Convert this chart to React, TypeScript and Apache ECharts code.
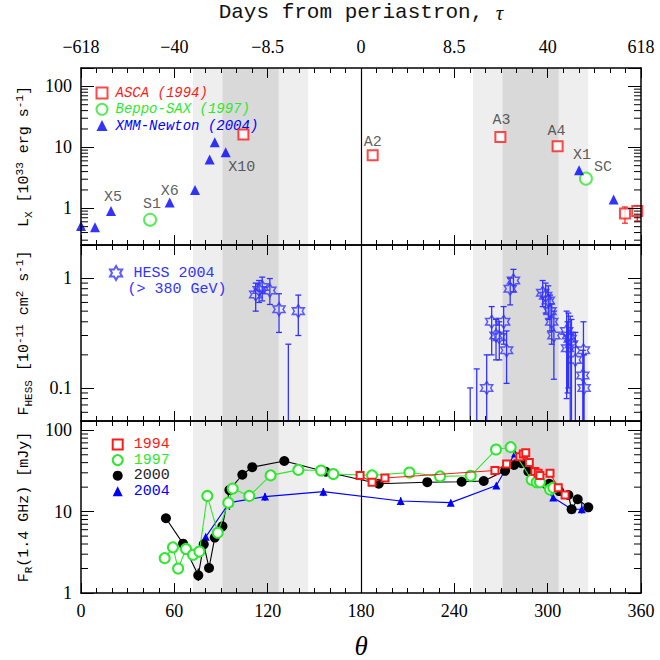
import React, { useEffect, useRef } from 'react';
import * as echarts from 'echarts';

// ---------- Panel 1: X-ray luminosity ----------
const ascaTheta = [104.4, 187.5, 269.6, 306.4, 349.7, 357.6];
const ascaLx = [16.3, 7.4, 14.7, 10.4, 0.82, 0.9];
const ascaLabels = ['', 'A2', 'A3', 'A4', '', ''];
const ascaErrTheta = [349.7, 357.6];
const ascaErrLo = [0.57, 0.62];
const ascaErrHi = [1.05, 1.1];

const saxTheta = [44.4, 324.6];
const saxLx = [0.65, 3.07];
const saxLabels = ['S1', 'SC'];
const saxErrLo = [0.5, 3.07];
const saxErrHi = [0.65, 3.07];

const xmmTheta = [0, 9, 19.3, 57, 73.3, 82.7, 86, 93, 320.2, 342.4];
const xmmLx = [0.51, 0.49, 0.9, 1.24, 2.0, 6.3, 12.1, 8.3, 4.2, 1.4];
const xmmLabels = ['', '', 'X5', 'X6', '', '', '', 'X10', 'X1', ''];

// ---------- Panel 2: HESS flux ----------
const hessTheta = [112.3, 114.5, 116.5, 121.4, 127.3, 139.7, 260.8, 264.0, 266.8, 268.9, 271.7, 273.6, 275.9, 278.0,
  296.8, 298.7, 300.4, 301.5, 302.6, 304.0, 312.2, 312.8, 313.3, 314.5, 315.3, 317.8, 322.6, 323.0, 323.4];
const hessF = [0.71, 0.78, 0.83, 0.77, 0.52, 0.50, 0.10, 0.40, 0.30, 0.29, 0.40, 0.22, 0.80, 0.95,
  0.735, 0.69, 0.625, 0.50, 0.40, 0.30, 0.33, 0.23, 0.30, 0.28, 0.25, 0.18, 0.13, 0.22, 0.10];
const hessLo = [0.50, 0.60, 0.62, 0.575, 0.32, 0.30, 0.01, 0.20, 0.18, 0.18, 0.25, 0.11, 0.57, 0.75,
  0.55, 0.48, 0.42, 0.33, 0.25, 0.12, 0.08, 0.09, 0.10, 0.01, 0.01, 0.02, 0.01, 0.01, 0.01];
const hessHi = [0.90, 0.95, 1.02, 0.99, 0.72, 0.70, 0.20, 0.55, 0.42, 0.40, 0.55, 0.33, 1.0, 1.2,
  0.95, 0.90, 0.85, 0.70, 0.58, 0.50, 0.50, 0.40, 0.48, 0.45, 0.42, 0.32, 0.22, 0.40, 0.20];
const hessUlTheta = [133.3, 250.2, 254.4];
const hessUlHi = [0.25, 0.10, 0.149];

// ---------- Panel 3: radio flux ----------
const r1994Theta = [179.4, 187.1, 195.4, 266.1, 273.6, 282.2, 284.3, 285.9, 288.2, 291.8, 293.9, 295, 301.5, 306.8, 311.2];
const r1994F = [27.9, 23, 25.9, 32, 38.6, 47.2, 51, 52.8, 40.3, 31.2, 29.6, 27.9, 29.6, 19.7, 16];

const r1997Theta = [53.8, 59.1, 62.4, 67.5, 72, 76.1, 81.2, 87.9, 94.7, 97.5, 108.2, 121.9, 139.7, 154.3, 162.2,
  187.1, 211.1, 230.8, 250.5, 266.8, 276.2, 289.7, 292.9, 295, 301.5, 303.6];
const r1997F = [2.68, 3.64, 2.0, 3.48, 2.95, 3.23, 15.6, 5.5, 12.9, 19.2, 15.6, 27.9, 32.6, 32.0, 29,
  27.9, 30.3, 27.1, 27.6, 58, 62, 24.6, 23, 23, 18.7, 19.7];

const r2000Theta = [54.6, 65.6, 75.4, 78.9, 82.3, 86, 90.9, 95.4, 103.7, 110.1, 130.7, 157.3, 191.4, 222.6, 244.7,
  258.9, 272.6, 278.4, 283.3, 287.6, 290.8, 294.6, 301, 307.4, 313.3, 315.4, 319.3, 326.1];
const r2000F = [8.3, 4.04, 1.65, 3.96, 2.03, 4.8, 6.6, 18.4, 28.4, 35.2, 41.9, 30.9, 22, 23, 23.3,
  23.8, 31.7, 37.5, 39.3, 31.2, 27.6, 24.6, 22, 17.9, 16, 10.7, 14.2, 11.3];

const r2004Theta = [80.2, 95.4, 118.3, 155.8, 205.5, 237.7, 267, 279, 289.7, 303.6, 315.4, 321.9];
const r2004F = [4.9, 12.9, 15.3, 17.6, 13.5, 12.9, 21, 52, 27.9, 14.9, 10.7, 10.7];

const rErr2004Theta = [95.4, 118.3, 155.8, 205.5, 237.7, 321.9];
const rErr2004Lo = [10.5, 13.5, 15.5, 12, 12, 9.5];
const rErr2004Hi = [15, 17, 19.5, 15, 14, 13];
const rErr2000Theta = [65.6, 75.4, 315.4, 319.3];
const rErr2000Lo = [3.7, 1.4, 9.5, 12.5];
const rErr2000Hi = [4.4, 2.0, 12, 16];
const rErr1997Theta = [53.8, 62.4, 139.7, 154.3, 211.1, 230.8, 250.5, 266.8, 276.2];
const rErr1997Lo = [2.3, 1.75, 30.5, 30, 28.5, 25.5, 26, 54, 58];
const rErr1997Hi = [3.1, 2.3, 34.5, 34, 32, 28.7, 29.2, 62, 66];

// ---------- axes ----------
const tauLabels = ['\u2212618', '\u221240', '\u22128.5', '0', '8.5', '40', '618'];
const yMin = [0.25, 0.05, 1];
const yMax = [200, 2, 130];
const minorTicks0 = [0.3, 0.4, 0.5, 0.6, 0.7, 0.8, 0.9, 2, 3, 4, 5, 6, 7, 8, 9, 20, 30, 40, 50, 60, 70, 80, 90];
const minorTicks1 = [0.06, 0.07, 0.08, 0.09, 0.2, 0.3, 0.4, 0.5, 0.6, 0.7, 0.8, 0.9];
const minorTicks2 = [2, 3, 4, 5, 6, 7, 8, 9, 20, 30, 40, 50, 60, 70, 80, 90];
const lightBands = [[72, 146], [252, 326]];
const darkBands = [[91, 127], [271, 307]];

const RED = '#ff1a1a';
const GREEN = '#2ee82e';
const BLUE = '#0000ff';
const HBLUE = '#3333ff';
const MONO = '"Liberation Mono", "DejaVu Sans Mono", monospace';
const SERIF = '"Liberation Serif", "DejaVu Serif", serif';
const STAR = 'path://M10 0L12.89 5L18.66 5L15.77 10L18.66 15L12.89 15L10 20L7.11 15L1.34 15L4.23 10L1.34 5L7.11 5Z';

const logLabel = (v: number) => {
  const l = Math.log10(v);
  const r = Math.round(l);
  if (Math.abs(l - r) > 1e-6) return '';
  return r >= 0 ? String(Math.pow(10, r)) : Math.pow(10, r).toFixed(-r);
};

const yNames = [
  '{n|L}{sub|X}{n| [10}{sup|33}{n| erg s}{sup|-1}{n|]}',
  '{n|F}{sub|HESS}{n| [10}{sup|-11}{n| cm}{sup|2}{n| s}{sup|-1}{n|]}',
  '{n|F}{sub|R}{n|(1.4 GHz) [mJy]}',
];

function errRender(cap: number, color: string, width: number) {
  return (params: any, api: any) => {
    const x = api.value(0);
    const lo = api.value(1);
    const hi = api.value(2);
    const cs = params.coordSys;
    const p1 = api.coord([x, lo]);
    const p2 = api.coord([x, hi]);
    const clamp = (y: number) => Math.max(cs.y, Math.min(cs.y + cs.height, y));
    const y1 = clamp(p1[1]);
    const y2 = clamp(p2[1]);
    const style = { stroke: color, lineWidth: width };
    const children: any[] = [{ type: 'line', shape: { x1: p1[0], y1, x2: p1[0], y2 }, style }];
    if (cap > 0) {
      if (p2[1] >= cs.y) children.push({ type: 'line', shape: { x1: p2[0] - cap, y1: y2, x2: p2[0] + cap, y2 }, style });
      if (p1[1] <= cs.y + cs.height) children.push({ type: 'line', shape: { x1: p1[0] - cap, y1, x2: p1[0] + cap, y2: y1 }, style });
    }
    return { type: 'group', children };
  };
}

function minorRender(params: any, api: any) {
  const v = api.value(1);
  const cs = params.coordSys;
  const p = api.coord([0, v]);
  const style = { stroke: '#000', lineWidth: 1 };
  return {
    type: 'group',
    children: [
      { type: 'line', shape: { x1: cs.x, y1: p[1], x2: cs.x + 7, y2: p[1] }, style },
      { type: 'line', shape: { x1: cs.x + cs.width - 7, y1: p[1], x2: cs.x + cs.width, y2: p[1] }, style },
    ],
  };
}

function buildOption(): any {
  const grids = [
    { left: 81, top: 68, width: 560, height: 177 },
    { left: 81, top: 245, width: 560, height: 176 },
    { left: 81, top: 421, width: 560, height: 176 },
  ];
  const xAxes: any[] = [];
  const yAxes: any[] = [];
  for (let g = 0; g < 3; g++) {
    for (const pos of ['bottom', 'top']) {
      const ax: any = {
        type: 'value', gridIndex: g, position: pos, min: 0, max: 360, interval: 60, z: 10,
        axisLine: { show: true, onZero: false, lineStyle: { color: '#000', width: 1.5 } },
        axisTick: { show: true, inside: true, length: 10, lineStyle: { color: '#000', width: 1 } },
        minorTick: { show: true, splitNumber: 6, length: 5, lineStyle: { color: '#000', width: 1 } },
        splitLine: { show: false },
        axisLabel: { show: false },
      };
      if (g === 2 && pos === 'bottom') {
        ax.axisLabel = { show: true, fontFamily: SERIF, fontSize: 18, color: '#000', margin: 9 };
        ax.name = 'θ';
        ax.nameLocation = 'middle';
        ax.nameGap = 39;
        ax.nameTextStyle = { fontFamily: SERIF, fontStyle: 'italic', fontSize: 27, color: '#000' };
      }
      if (g === 0 && pos === 'top') {
        ax.axisLabel = {
          show: true, fontFamily: SERIF, fontSize: 18, color: '#000', margin: 12,
          formatter: (v: number) => tauLabels[Math.round(v / 60)] ?? '',
        };
        ax.name = 'Days from periastron, {t|τ}';
        ax.nameLocation = 'middle';
        ax.nameGap = 45;
        ax.nameTextStyle = {
          fontFamily: MONO, fontSize: 21, color: '#111',
          rich: { t: { fontFamily: SERIF, fontStyle: 'italic', fontSize: 21, color: '#111' } },
        };
      }
      xAxes.push(ax);
    }
    for (const pos of ['left', 'right']) {
      const ax: any = {
        type: 'log', logBase: 10, gridIndex: g, position: pos, min: yMin[g], max: yMax[g], z: 10,
        axisLine: { show: true, onZero: false, lineStyle: { color: '#000', width: 1.5 } },
        axisTick: { show: true, inside: true, length: 13, lineStyle: { color: '#000', width: 1 } },
        minorTick: { show: false },
        splitLine: { show: false },
        axisLabel: pos === 'left'
          ? { show: true, formatter: logLabel, fontFamily: SERIF, fontSize: 18, color: '#000', margin: 9, showMinLabel: true, showMaxLabel: true }
          : { show: false },
      };
      if (pos === 'left') {
        ax.name = yNames[g];
        ax.nameLocation = 'middle';
        ax.nameRotate = 90;
        ax.nameGap = 47;
        ax.nameTextStyle = {
          fontFamily: MONO, fontSize: 15, color: '#000',
          rich: {
            n: { fontFamily: MONO, fontSize: 15, lineHeight: 20, color: '#000' },
            sup: { fontFamily: MONO, fontSize: 11, lineHeight: 11, verticalAlign: 'top', color: '#000' },
            sub: { fontFamily: MONO, fontSize: 11, lineHeight: 11, verticalAlign: 'bottom', color: '#000' },
          },
        };
      }
      yAxes.push(ax);
    }
  }

  const series: any[] = [];
  const minorLists = [minorTicks0, minorTicks1, minorTicks2];
  for (let g = 0; g < 3; g++) {
    const markData: any[] = [];
    lightBands.forEach((b) => markData.push([{ xAxis: b[0], itemStyle: { color: '#eeeeee' } }, { xAxis: b[1] }]));
    darkBands.forEach((b) => markData.push([{ xAxis: b[0], itemStyle: { color: '#d9d9d9' } }, { xAxis: b[1] }]));
    series.push({
      type: 'scatter', name: 'bands' + g, xAxisIndex: 2 * g, yAxisIndex: 2 * g, data: [], z: 0, silent: true,
      markArea: { silent: true, data: markData, label: { show: false } },
      markLine: {
        silent: true, symbol: ['none', 'none'], label: { show: false },
        lineStyle: { color: '#000', width: 1.2, type: 'solid' },
        data: [{ xAxis: 180 }],
      },
    });
    series.push({
      type: 'custom', name: 'minor' + g, xAxisIndex: 2 * g, yAxisIndex: 2 * g, silent: true, z: 11,
      renderItem: minorRender, data: minorLists[g].map((v) => [0, v]), encode: { x: 0, y: 1 },
    });
  }

  const lbl = (text: string, off: number[]) =>
    text ? { show: true, position: 'inside', formatter: text, offset: off, fontFamily: MONO, fontSize: 15, color: '#333' } : undefined;
  const ascaOff: any = { A2: [0, -13], A3: [1, -17], A4: [-1, -15] };
  const saxOff: any = { S1: [2, -15], SC: [17, -11] };
  const xmmOff: any = { X5: [2, -14], X6: [0, -11], X10: [16, 15], X1: [3, -15] };

  // Panel 1
  series.push({
    type: 'custom', name: 'ascaErr', xAxisIndex: 0, yAxisIndex: 0, silent: true, z: 3,
    renderItem: errRender(3, RED, 1.2), encode: { x: 0, y: [1, 2] },
    data: ascaErrTheta.map((t, i) => [t, ascaErrLo[i], ascaErrHi[i]]),
  });
  series.push({
    type: 'custom', name: 'saxErr', xAxisIndex: 0, yAxisIndex: 0, silent: true, z: 3,
    renderItem: errRender(0, GREEN, 1.2), encode: { x: 0, y: [1, 2] },
    data: saxTheta.map((t, i) => [t, saxErrLo[i], saxErrHi[i]]),
  });
  series.push({
    type: 'scatter', name: 'ASCA (1994)', xAxisIndex: 0, yAxisIndex: 0, symbol: 'emptyRect', symbolSize: 10, z: 4,
    itemStyle: { color: RED, borderColor: RED, borderWidth: 1.5 },
    data: ascaTheta.map((t, i) => ({ value: [t, ascaLx[i]], label: lbl(ascaLabels[i], ascaOff[ascaLabels[i]]) })),
  });
  series.push({
    type: 'scatter', name: 'Beppo-SAX (1997)', xAxisIndex: 0, yAxisIndex: 0, symbol: 'emptyCircle', symbolSize: 12, z: 4,
    itemStyle: { color: GREEN, borderColor: GREEN, borderWidth: 1.5 },
    data: saxTheta.map((t, i) => ({ value: [t, saxLx[i]], label: lbl(saxLabels[i], saxOff[saxLabels[i]]) })),
  });
  series.push({
    type: 'scatter', name: 'XMM-Newton (2004)', xAxisIndex: 0, yAxisIndex: 0, symbol: 'triangle', symbolSize: 10, z: 4,
    itemStyle: { color: BLUE },
    data: xmmTheta.map((t, i) => ({ value: [t, xmmLx[i]], label: lbl(xmmLabels[i], xmmOff[xmmLabels[i]]) })),
  });

  // Panel 2
  series.push({
    type: 'custom', name: 'hessErr', xAxisIndex: 2, yAxisIndex: 2, silent: true, z: 3,
    renderItem: errRender(3, HBLUE, 1.3), encode: { x: 0, y: [1, 2] },
    data: hessTheta.map((t, i) => [t, hessLo[i], hessHi[i]]).concat(hessUlTheta.map((t, i) => [t, 0.01, hessUlHi[i]])),
  });
  series.push({
    type: 'scatter', name: 'HESS 2004', xAxisIndex: 2, yAxisIndex: 2, symbol: STAR, symbolSize: [12, 13], z: 4, clip: true,
    itemStyle: { color: 'rgba(255,255,255,0)', borderColor: HBLUE, borderWidth: 1.5 },
    data: hessTheta.map((t, i) => [t, hessF[i]]),
  });

  // Panel 3
  const errSeries = (name: string, th: number[], lo: number[], hi: number[], color: string) => ({
    type: 'custom', name, xAxisIndex: 4, yAxisIndex: 4, silent: true, z: 3,
    renderItem: errRender(0, color, 1.3), encode: { x: 0, y: [1, 2] },
    data: th.map((t, i) => [t, lo[i], hi[i]]),
  });
  series.push(errSeries('e2004', rErr2004Theta, rErr2004Lo, rErr2004Hi, BLUE));
  series.push(errSeries('e2000', rErr2000Theta, rErr2000Lo, rErr2000Hi, '#000'));
  series.push(errSeries('e1997', rErr1997Theta, rErr1997Lo, rErr1997Hi, GREEN));
  const lineSeries = (name: string, th: number[], f: number[], color: string, symbol: string, size: number, z: number) => ({
    type: 'line', name, xAxisIndex: 4, yAxisIndex: 4, symbol, symbolSize: size, showSymbol: true, z,
    lineStyle: { color, width: 1.1 },
    itemStyle: { color, borderColor: color, borderWidth: symbol.startsWith('empty') ? 1.3 : 0 },
    data: th.map((t, i) => [t, f[i]]),
  });
  series.push(lineSeries('2004', r2004Theta, r2004F, BLUE, 'triangle', 8, 4));
  series.push(lineSeries('2000', r2000Theta, r2000F, '#000', 'circle', 10, 5));
  series.push(lineSeries('1997', r1997Theta, r1997F, GREEN, 'emptyCircle', 10, 6));
  series.push(lineSeries('1994', r1994Theta, r1994F, RED, 'emptyRect', 7, 7));

  const hessRich = {
    a: { fontFamily: 'Liberation Mono', fontSize: 15, lineHeight: 16, color: HBLUE, padding: [0, 0, 0, 6] },
    b: { fontFamily: 'Liberation Mono', fontSize: 15, lineHeight: 16, color: HBLUE },
  };

  const legends = [
    {
      orient: 'vertical', left: 90.5, top: 80, itemWidth: 11, itemHeight: 11, itemGap: 0.3, selectedMode: false,
      textStyle: { fontFamily: MONO, fontStyle: 'italic', fontSize: 14, lineHeight: 16, padding: [0, 0, 0, 3] },
      data: [
        { name: 'ASCA (1994)', icon: 'emptyRect', textStyle: { color: RED } },
        { name: 'Beppo-SAX (1997)', icon: 'emptyCircle', textStyle: { color: GREEN } },
        { name: 'XMM-Newton (2004)', icon: 'triangle', textStyle: { color: BLUE } },
      ],
    },
    {
      orient: 'vertical', left: 104, top: 244, itemWidth: 13, itemHeight: 14, selectedMode: false,
      formatter: () => '{a|HESS 2004}\n{b|(> 380 GeV)}',
      textStyle: { fontFamily: MONO, fontSize: 15, lineHeight: 16, color: HBLUE, padding: [16, 0, 0, 0], rich: hessRich },
      data: [{ name: 'HESS 2004', icon: STAR }],
    },
    {
      orient: 'vertical', left: 106.7, top: 432, itemWidth: 10, itemHeight: 10, itemGap: 0.6, selectedMode: false,
      textStyle: { fontFamily: MONO, fontSize: 15, lineHeight: 14, padding: [0, 0, 0, 6] },
      data: [
        { name: '1994', icon: 'emptyRect', textStyle: { color: RED } },
        { name: '1997', icon: 'emptyCircle', textStyle: { color: GREEN } },
        { name: '2000', icon: 'circle', textStyle: { color: '#222' } },
        { name: '2004', icon: 'triangle', textStyle: { color: BLUE } },
      ],
    },
  ];

  return {
    animation: false,
    backgroundColor: '#fff',
    grid: grids,
    xAxis: xAxes,
    yAxis: yAxes,
    legend: legends,
    series,
  };
}

export default function App() {
  const ref = useRef<HTMLDivElement>(null);
  useEffect(() => {
    document.body.style.margin = '0';
    const chart = echarts.init(ref.current!, null, { renderer: 'svg' });
    chart.setOption(buildOption());
    return () => chart.dispose();
  }, []);
  return <div ref={ref} style={{ width: 660, height: 660 }} />;
}
